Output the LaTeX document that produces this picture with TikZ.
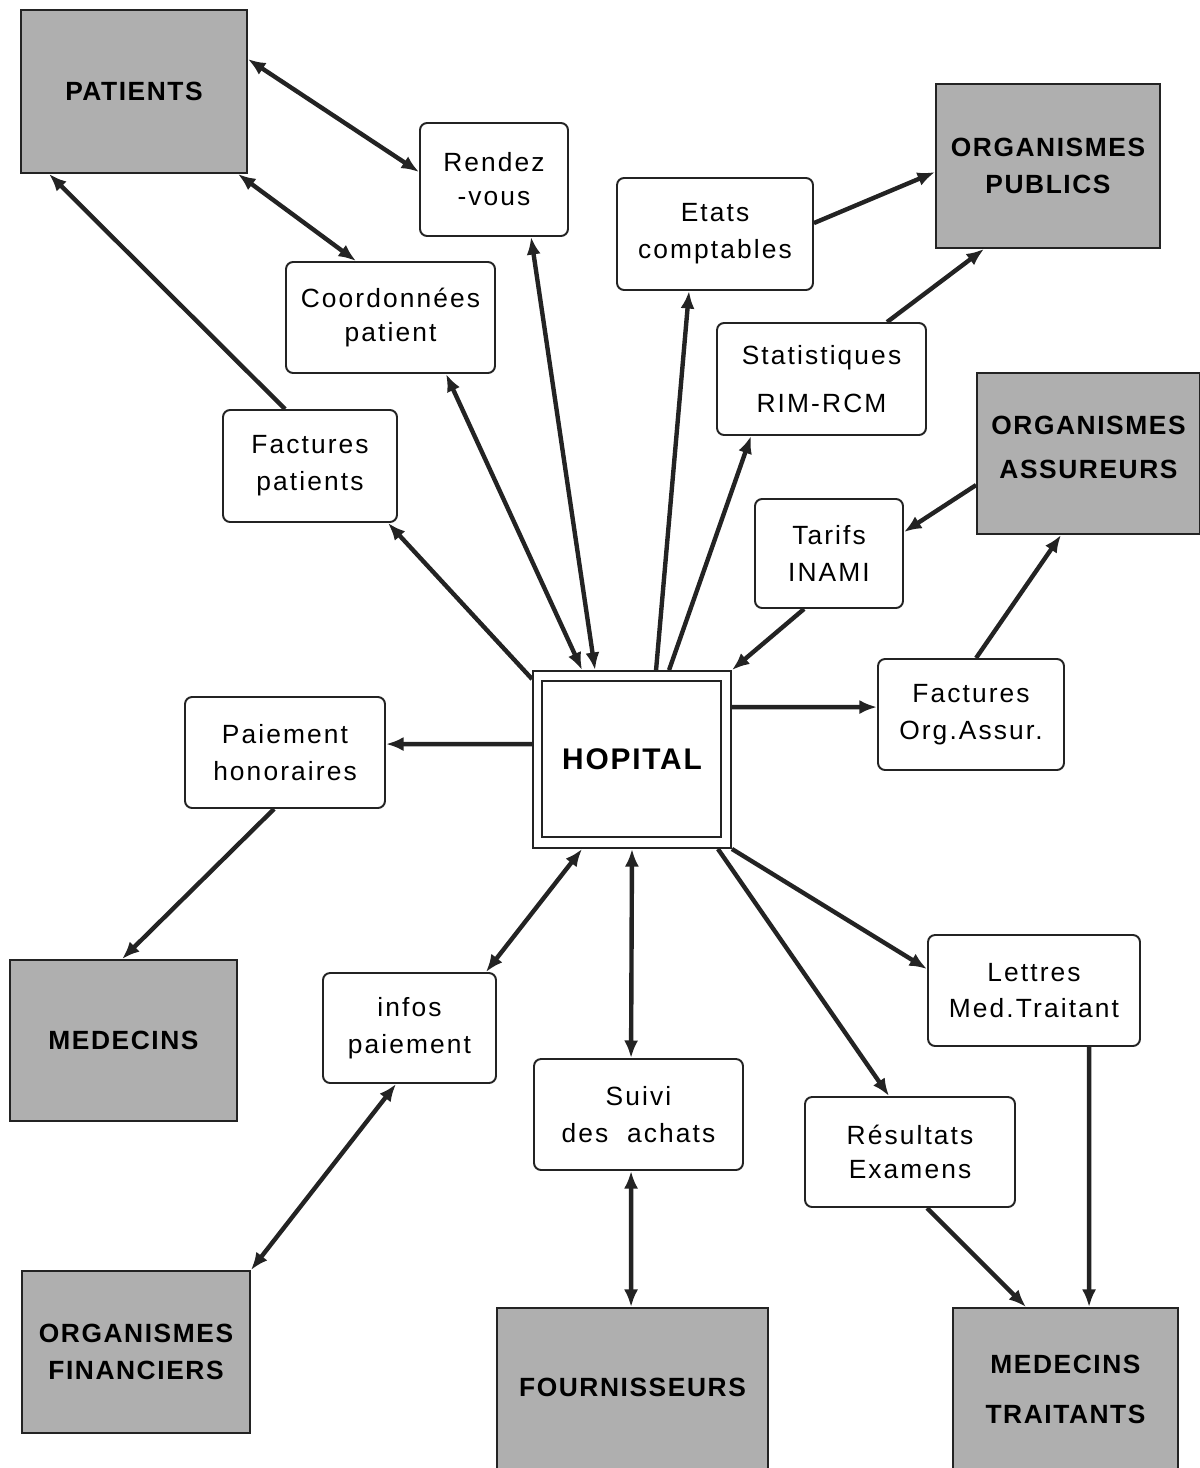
\documentclass[tikz,border=0pt]{standalone}
\usepackage{fontspec}
\setmainfont{Liberation Sans}
\newfontfamily\lblfont[LetterSpace=8]{Liberation Sans}
\newfontfamily\capfont[LetterSpace=6]{Liberation Sans}
\usetikzlibrary{arrows.meta,calc}
\definecolor{boxgrey}{RGB}{175,175,175}
\definecolor{ink}{RGB}{35,35,35}
\begin{document}
\begin{tikzpicture}[x=0.02cm,y=-0.02cm,
  wbox/.style={draw=ink, line width=1.1pt, rounded corners=4pt, fill=white,
    align=center, inner sep=0pt, font=\lblfont\fontsize{15}{21}\selectfont},
  gbox/.style={draw=ink, line width=1.1pt, fill=boxgrey,
    align=center, inner sep=0pt, font=\capfont\bfseries\fontsize{15}{21}\selectfont},
  hbox/.style={draw=ink, line width=1.1pt, fill=white,
    align=center, inner sep=0pt, font=\capfont\bfseries\fontsize{17}{21}\selectfont},
  link/.style={line width=2.5pt, draw=ink},
  oneway/.style={link, -{Latex[length=10pt,width=8pt]}},
  twoway/.style={link, {Latex[length=10pt,width=8pt]}-{Latex[length=10pt,width=8pt]}}]

\useasboundingbox (0,0) rectangle (1200,1468);
\clip (0,0) rectangle (1200,1468);
\fill[white] (0,0) rectangle (1200,1468);

% external partners (grey)
\node[gbox, minimum width=4.52cm, minimum height=3.26cm] (pat) at (134,91.5) {PATIENTS};
\node[gbox, minimum width=4.48cm, minimum height=3.28cm] (pub) at (1048,166) {ORGANISMES\\PUBLICS};
\node[gbox, minimum width=4.46cm, minimum height=3.22cm, text depth=7pt] (ass) at (1088.5,453.5) {ORGANISMES\\[4.5pt]ASSUREURS};
\node[gbox, minimum width=4.54cm, minimum height=3.22cm] (med) at (123.5,1040.5) {MEDECINS};
\node[gbox, minimum width=4.56cm, minimum height=3.24cm] (fin) at (136,1352) {ORGANISMES\\FINANCIERS};
\node[gbox, minimum width=5.42cm, minimum height=3.44cm, text depth=8pt] (fou) at (632.5,1394) {FOURNISSEURS};
\node[gbox, minimum width=4.50cm, minimum height=3.34cm, text depth=3pt] (mtr) at (1065.5,1391.5) {MEDECINS\\[7.4pt]TRAITANTS};

% information flows (white)
\node[wbox, minimum width=2.96cm, minimum height=2.26cm] (rdv) at (494,179.5) {Rendez\\[-1.7pt]-vous};
\node[wbox, minimum width=4.18cm, minimum height=2.22cm] (coo) at (390.5,317.5) {Coordonnées\\[-1.7pt]patient};
\node[wbox, minimum width=3.92cm, minimum height=2.24cm] (eta) at (715,234) {Etats\\comptables};
\node[wbox, minimum width=4.18cm, minimum height=2.24cm] (sta) at (821.5,379) {Statistiques\\[6.8pt]RIM-RCM};
\node[wbox, minimum width=3.48cm, minimum height=2.24cm] (fpa) at (310,466) {Factures\\patients};
\node[wbox, minimum width=2.96cm, minimum height=2.18cm] (tar) at (829,553.5) {Tarifs\\INAMI};
\node[wbox, minimum width=4.00cm, minimum height=2.22cm] (pai) at (285,752.5) {Paiement\\honoraires};
\node[wbox, minimum width=3.72cm, minimum height=2.22cm] (foa) at (971,714.5) {Factures\\Org.Assur.};
\node[wbox, minimum width=3.46cm, minimum height=2.20cm] (inf) at (409.5,1028) {infos\\paiement};
\node[wbox, minimum width=4.18cm, minimum height=2.22cm] (sui) at (638.5,1114.5) {Suivi\\des\ \ achats};
\node[wbox, minimum width=4.24cm, minimum height=2.22cm] (let) at (1034,990.5) {Lettres\\Med.Traitant};
\node[wbox, minimum width=4.20cm, minimum height=2.20cm] (res) at (910,1152) {Résultats\\[-1.7pt]Examens};

% the hospital, double frame
\node[hbox, minimum width=3.96cm, minimum height=3.54cm] (hop) at (632,759.5) {HOPITAL};
\draw[draw=ink, line width=1.1pt] ($(hop.south west)+(10,-12)$) rectangle ($(hop.north east)+(-11,11)$);

% connectors
\draw[twoway] ($(pat.north east)+(0,50)$) -- ($(rdv.north west)+(0,50)$);
\draw[twoway] ($(pat.south east)+(-10,0)$) -- ($(coo.north west)+(71,0)$);
\draw[oneway] ($(fpa.north west)+(63,0)$) -- ($(pat.south west)+(29,0)$);
\draw[oneway] ($(hop.north west)+(0,9)$) -- ($(fpa.south east)+(-10,0)$);
\draw[twoway] ($(hop.north west)+(50,0)$) -- ($(coo.south west)+(161,0)$);
\draw[twoway] ($(hop.north west)+(63,0)$) -- ($(rdv.south west)+(112,0)$);
\draw[oneway] ($(hop.north west)+(124,0)$) -- ($(eta.south west)+(73,0)$);
\draw[oneway] ($(hop.north west)+(137,0)$) -- ($(sta.south west)+(35,0)$);
\draw[oneway] ($(eta.north east)+(0,46)$) -- ($(pub.north west)+(0,89)$);
\draw[oneway] ($(sta.north west)+(171,0)$) -- ($(pub.south west)+(49,0)$);
\draw[oneway] ($(ass.north west)+(0,113)$) -- ($(tar.north east)+(0,34)$);
\draw[oneway] ($(tar.south west)+(50,0)$) -- (hop.north east);
\draw[oneway] ($(foa.north west)+(99,0)$) -- ($(ass.south west)+(85,0)$);
\draw[oneway] ($(hop.north east)+(0,37)$) -- ($(foa.north west)+(0,49)$);
\draw[oneway] ($(hop.north west)+(0,74)$) -- ($(pai.north east)+(0,48)$);
\draw[oneway] ($(pai.south west)+(90,0)$) -- ($(med.north west)+(113,0)$);
\draw[twoway] ($(hop.south west)+(50,0)$) -- ($(inf.north east)+(-11,0)$);
\draw[twoway] ($(inf.south west)+(74,0)$) -- (fin.north east);
\draw[twoway] (hop.south) -- ($(sui.north west)+(98,0)$);
\draw[twoway] ($(sui.south west)+(98,0)$) -- ($(fou.north west)+(135,0)$);
\draw[oneway] (hop.south east) -- ($(let.north west)+(0,35)$);
\draw[oneway] ($(hop.south east)+(-14,0)$) -- ($(res.north west)+(85,0)$);
\draw[oneway] ($(res.south west)+(123,0)$) -- ($(mtr.north west)+(74,0)$);
\draw[oneway] ($(let.south west)+(162,0)$) -- ($(mtr.north west)+(137,0)$);
\end{tikzpicture}
\end{document}
